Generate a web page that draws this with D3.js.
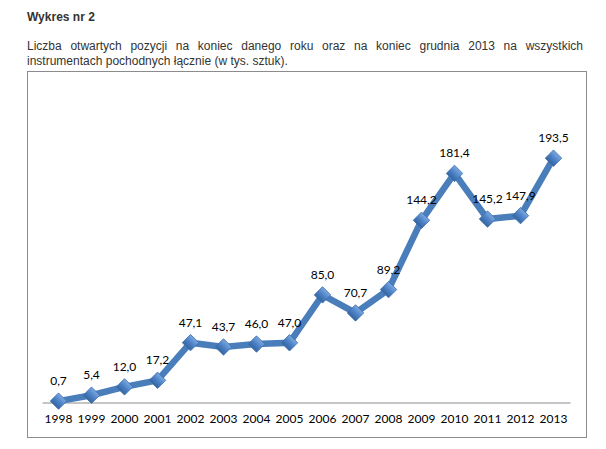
<!DOCTYPE html>
<html>
<head>
<meta charset="utf-8">
<script src="https://cdn.jsdelivr.net/npm/d3@7"></script>
<style>
  body { margin: 0; background: #fff; }
  #chart { position: absolute; left: 0; top: 0; }
</style>
</head>
<body>
<div id="chart"></div>
<script>
// Chart data
const years  = ["1998","1999","2000","2001","2002","2003","2004","2005","2006","2007","2008","2009","2010","2011","2012","2013"];
const values = [0.7, 5.4, 12.0, 17.2, 47.1, 43.7, 46.0, 47.0, 85.0, 70.7, 89.2, 144.2, 181.4, 145.2, 147.9, 193.5];
const yDomain = [0, 250];

const title    = "Wykres nr 2";
const subLine1 = ["Liczba", "otwartych", "pozycji", "na", "koniec", "danego", "roku", "oraz", "na", "koniec", "grudnia", "2013", "na", "wszystkich"];
const subLine2 = "instrumentach pochodnych łącznie (w tys. sztuk).";

const config = {
  width     : 606,
  height    : 449,
  boxLeft   : 27,
  boxTop    : 71,
  boxRight  : 586,
  boxBottom : 437,
  plotLeft  : 42,
  plotRight : 570,
  plotTop   : 87,
  plotBottom: 402,
  lineColor : "#4a7ebb",
};

const svg = d3.select("#chart")
  .append("svg")
    .attr("width", config.width)
    .attr("height", config.height);

// Header texts
svg.append("text")
  .attr("x", 27).attr("y", 21)
  .style("font-family", "Arial, 'Liberation Sans', sans-serif")
  .style("font-size", "12px")
  .style("font-weight", "bold")
  .attr("fill", "#333")
  .text(title);

// justified first line: spread words between left and right margin
const line1 = svg.append("g")
  .style("font-family", "Arial, 'Liberation Sans', sans-serif")
  .style("font-size", "12px")
  .attr("fill", "#333");
const words = line1.selectAll("text")
  .data(subLine1)
  .enter()
  .append("text")
    .attr("y", 50)
    .text(function(d){ return d });
const widths = [];
words.each(function(){ widths.push(this.getComputedTextLength()) });
const lineStart = 27, lineEnd = 583;
const gap = (lineEnd - lineStart - d3.sum(widths)) / (subLine1.length - 1);
let cursor = lineStart;
words.attr("x", function(d, i){ const x = cursor; cursor += widths[i] + gap; return x });

svg.append("text")
  .attr("x", 27).attr("y", 65)
  .style("font-family", "Arial, 'Liberation Sans', sans-serif")
  .style("font-size", "12px")
  .attr("fill", "#333")
  .text(subLine2);

// Chart frame
svg.append("rect")
  .attr("x", config.boxLeft + 0.5)
  .attr("y", config.boxTop + 0.5)
  .attr("width", config.boxRight - config.boxLeft)
  .attr("height", config.boxBottom - config.boxTop)
  .attr("fill", "white")
  .attr("stroke", "#8c8c8c")
  .attr("stroke-width", 1);

// Scales
const x = d3.scaleBand()
  .domain(years)
  .range([config.plotLeft, config.plotRight]);

const y = d3.scaleLinear()
  .domain(yDomain)
  .range([config.plotBottom, config.plotTop]);

const cx = function(d, i){ return x(years[i]) + x.bandwidth() / 2 };

// X axis
const xAxis = svg.append("g")
  .attr("transform", "translate(0," + (y(0) + 0.5) + ")")
  .call(d3.axisBottom(x).tickSize(0).tickPadding(12));
xAxis.select(".domain").attr("stroke", "#8c8c8c");
xAxis.selectAll("text")
  .style("font-family", "Lato, 'Open Sans', sans-serif")
  .style("font-size", "12px")
  .attr("fill", "#000");

// Gradient for markers
const defs = svg.append("defs");
const grad = defs.append("linearGradient")
  .attr("id", "markerGrad")
  .attr("x1", 0).attr("y1", 0).attr("x2", 0).attr("y2", 1);
grad.append("stop").attr("offset", "0%").attr("stop-color", "#7aa7e0");
grad.append("stop").attr("offset", "55%").attr("stop-color", "#4a7fc4");
grad.append("stop").attr("offset", "100%").attr("stop-color", "#35659f");

// Line
const line = d3.line()
  .x(cx)
  .y(function(d){ return y(d) });

svg.append("path")
  .datum(values)
  .attr("d", line)
  .attr("fill", "none")
  .attr("stroke", config.lineColor)
  .attr("stroke-width", 6.5)
  .attr("stroke-linejoin", "miter");

// Diamond markers
const diamond = d3.symbol().type(d3.symbolSquare).size(135);
svg.append("g")
  .selectAll("path")
  .data(values)
  .enter()
  .append("path")
    .attr("d", diamond)
    .attr("transform", function(d, i){ return "translate(" + cx(d, i) + "," + y(d) + ") rotate(45)" })
    .attr("fill", "url(#markerGrad)")
    .attr("stroke", "#3d6fae")
    .attr("stroke-width", 0.8);

// Value labels
svg.append("g")
  .selectAll("text")
  .data(values)
  .enter()
  .append("text")
    .attr("x", cx)
    .attr("y", function(d){ return y(d) - 16 })
    .attr("text-anchor", "middle")
    .style("font-family", "Lato, 'Open Sans', sans-serif")
    .style("font-size", "12px")
    .attr("fill", "#000")
    .text(function(d){ return d.toFixed(1).replace(".", ",") });
</script>
</body>
</html>
